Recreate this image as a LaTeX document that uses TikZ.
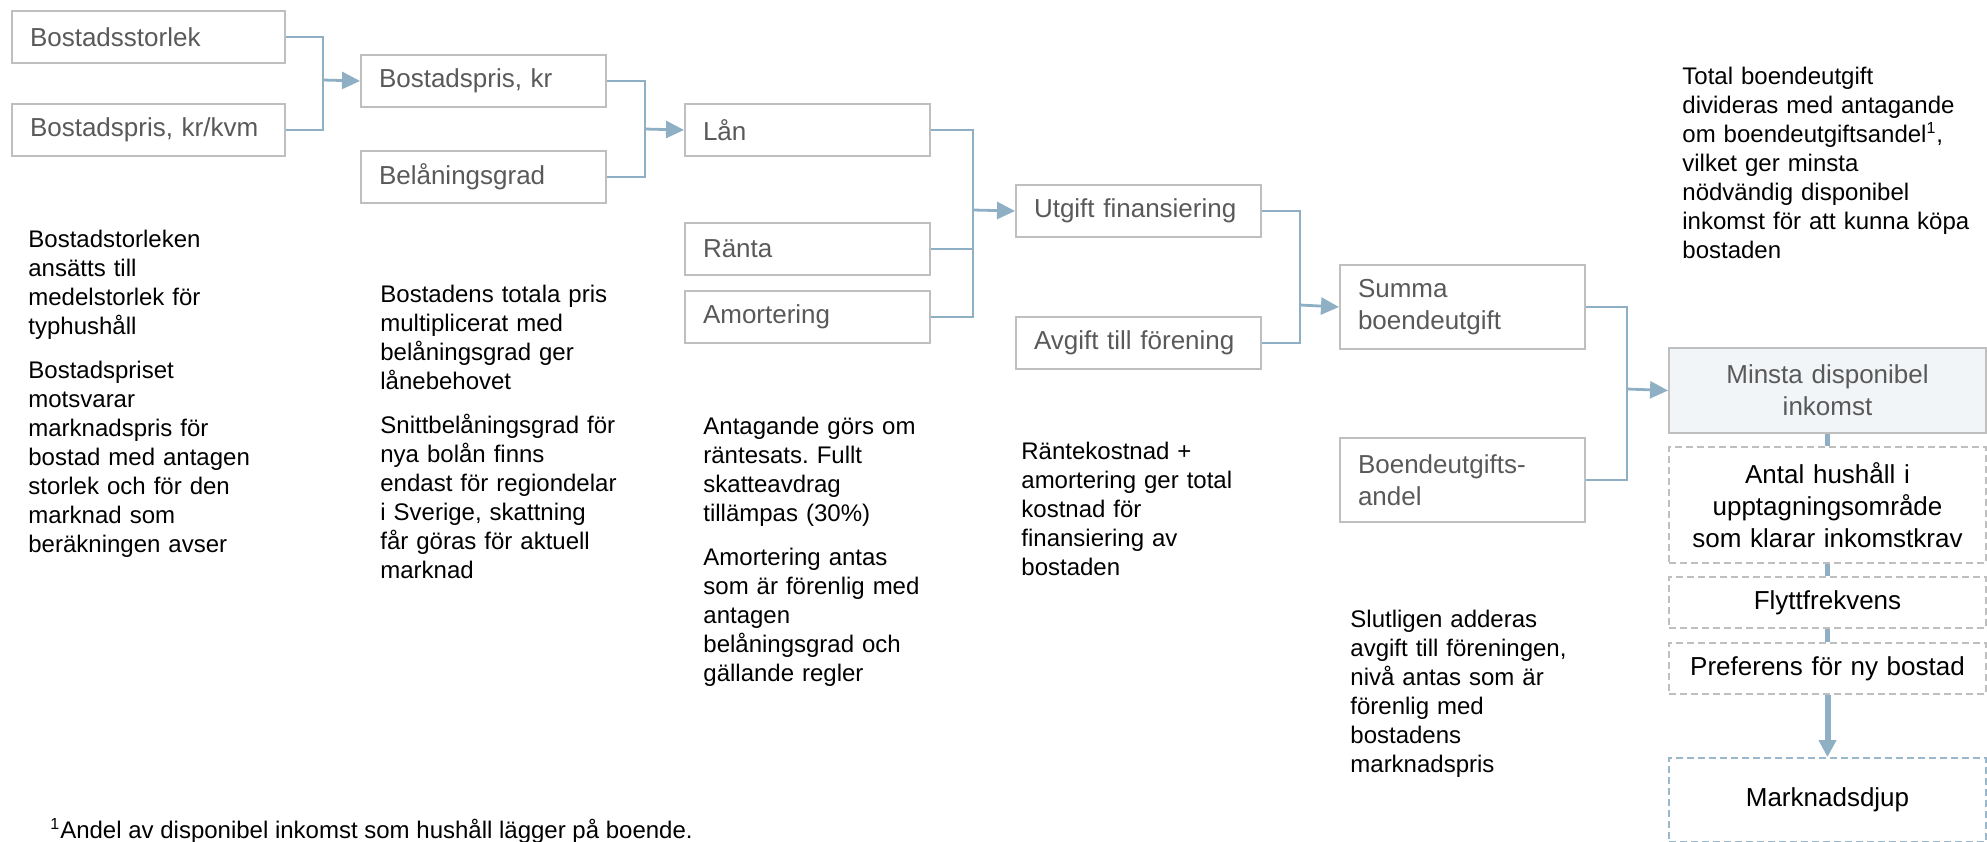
\documentclass[tikz,border=0pt]{standalone}
\usepackage{fontspec}
\setmainfont{Liberation Sans}
\usetikzlibrary{arrows.meta}
\definecolor{boxline}{HTML}{BFBFBF}
\definecolor{boxtext}{HTML}{595959}
\definecolor{linkblue}{HTML}{8EAFC4}
\definecolor{fillgray}{HTML}{F2F5F7}
\definecolor{dashblue}{HTML}{9BB7C9}
\newcommand\boxfont{\fontsize{13}{16}\selectfont}
\newcommand\notefont{\fontsize{12}{14.5}\selectfont}
\frenchspacing
\begin{document}
\begin{tikzpicture}[x=0.5pt, y=-0.5pt,
    inbox/.style={draw=boxline, line width=1pt, anchor=north west, inner xsep=9pt, inner ysep=0pt, minimum height=26pt, text width=104.5pt, align=left, text=boxtext, font=\boxfont},
    outbox/.style={draw=boxline, line width=1pt, dash pattern=on 3.5pt off 2pt, anchor=north west, inner xsep=4.25pt, inner ysep=0pt, text width=150pt, align=center, font=\boxfont},
    note/.style={anchor=base west, inner sep=0pt, text width=175pt, align=left, font=\notefont},
    link/.style={draw=linkblue, line width=1.4pt},
    arr/.style={link, -{Triangle[length=9pt, width=8.5pt]}},
    bar/.style={draw=linkblue, line width=2.5pt}]
    \useasboundingbox (0,0) rectangle (1987,841);
    \node[inbox, text width=118.5pt] (bsize) at (11,10) {Bostadsstorlek};
    \node[inbox, text width=118.5pt] (bkvm) at (11,103) {Bostadspris, kr/kvm};
    \node[inbox] (bprice) at (360,54) {Bostadspris, kr};
    \node[inbox] (grad) at (360,150) {Belåningsgrad};
    \node[inbox] (loan) at (684,103) {Lån};
    \node[inbox] (rate) at (684,222) {Ränta};
    \node[inbox] (amort) at (684,290) {Amortering};
    \node[inbox] (finance) at (1015,184) {Utgift finansiering};
    \node[inbox] (fee) at (1015,316) {Avgift till förening};
    \node[inbox, minimum height=42pt] (total) at (1339,264) {Summa\\boendeutgift};
    \node[inbox, minimum height=42pt] (share) at (1339,437) {Boendeutgifts-\\andel};
    \node[outbox, solid, fill=fillgray, text=boxtext, minimum height=42.5pt] (minInc) at (1668,347) {Minsta disponibel\\inkomst};
    \node[outbox, minimum height=58pt] (households) at (1668,446) {Antal hushåll i\\upptagningsområde\\som klarar inkomstkrav};
    \node[outbox, minimum height=25.5pt] (moving) at (1668,576) {Flyttfrekvens};
    \node[outbox, minimum height=25.5pt] (pref) at (1668,642) {Preferens för ny bostad};
    \node[outbox, draw=dashblue, minimum height=42pt] (depth) at (1668,757) {Marknadsdjup};
    \coordinate (j1) at (323,80);
    \coordinate (j2) at (645,129);
    \coordinate (j3) at (973,210);
    \coordinate (j4) at (1300,305);
    \coordinate (j5) at (1627,389);
    \draw[link] (bsize.east) -| (j1) |- (bkvm.east);
    \draw[arr] (j1) -- (bprice.west);
    \draw[link] (bprice.east) -| (j2) |- (grad.east);
    \draw[arr] (j2) -- (loan.west);
    \draw[link] (loan.east) -| (j3) |- (amort.east);
    \draw[link] (rate.east) -| (j3);
    \draw[arr] (j3) -- (finance.west);
    \draw[link] (finance.east) -| (j4) |- (fee.east);
    \draw[arr] (j4) -- (total.west);
    \draw[link] (total.east) -| (j5) |- (share.east);
    \draw[arr] (j5) -- (minInc.west);
    \draw[bar] (minInc.south) -- (households.north);
    \draw[bar] (households.south) -- (moving.north);
    \draw[bar] (moving.south) -- (pref.north);
    \draw[bar, line width=3pt, -{Triangle[length=8.5pt, width=8.5pt]}] (pref.south) -- (depth.north);
    \node[note] (noteSize) at (28,247) {Bostadstorleken\\ansätts till\\medelstorlek för\\typhushåll\\[7.5pt]Bostadspriset\\motsvarar\\marknadspris för\\bostad med antagen\\storlek och för den\\marknad som\\beräkningen avser};
    \node[note] (notePrice) at (380,302) {Bostadens totala pris\\multiplicerat med\\belåningsgrad ger\\lånebehovet\\[7.5pt]Snittbelåningsgrad för\\nya bolån finns\\endast för regiondelar\\i Sverige, skattning\\får göras för aktuell\\marknad};
    \node[note] (noteRate) at (703,434) {Antagande görs om\\räntesats. Fullt\\skatteavdrag\\tillämpas (30\%)\\[7.5pt]Amortering antas\\som är förenlig med\\antagen\\belåningsgrad och\\gällande regler};
    \node[note] (noteFin) at (1021,459) {Räntekostnad +\\amortering ger total\\kostnad för\\finansiering av\\bostaden};
    \node[note] (noteFee) at (1350,627) {Slutligen adderas\\avgift till föreningen,\\nivå antas som är\\förenlig med\\bostadens\\marknadspris};
    \node[note] (noteInc) at (1682,84) {Total boendeutgift\\divideras med antagande\\om boendeutgiftsandel\textsuperscript{1},\\vilket ger minsta\\nödvändig disponibel\\inkomst för att kunna köpa\\bostaden};
    \node[anchor=base west, inner sep=0pt, font=\notefont] (foot) at (50,838) {\textsuperscript{1}Andel av disponibel inkomst som hushåll lägger på boende.};
\end{tikzpicture}
\end{document}
